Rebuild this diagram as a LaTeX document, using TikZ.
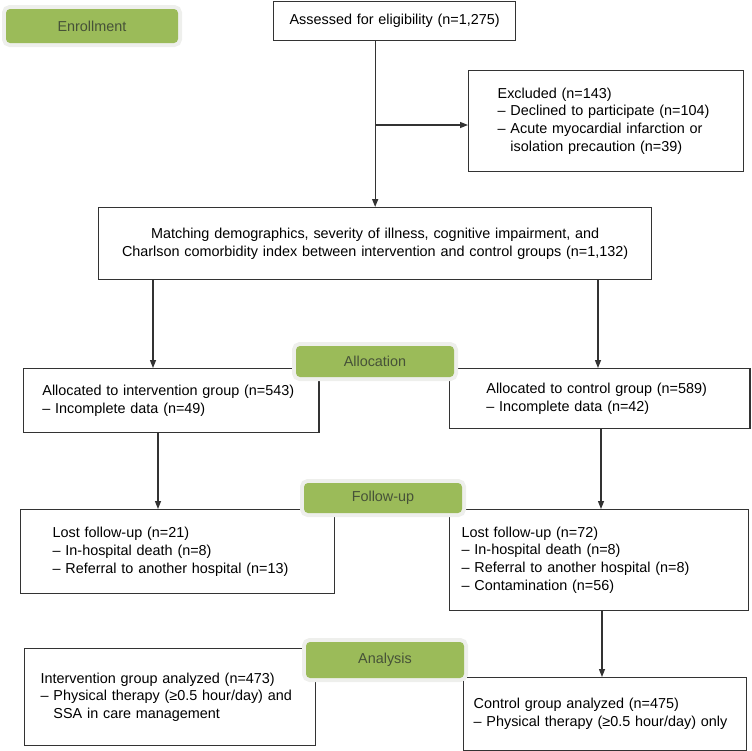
\documentclass[tikz,border=0pt]{standalone}
\usepackage{fontspec}
\setmainfont{Liberation Sans}
\usetikzlibrary{arrows.meta}
\definecolor{phasegreen}{HTML}{9BBB59}
\definecolor{phasering}{HTML}{EEEFEC}
\definecolor{phasetext}{HTML}{465238}
\definecolor{boxline}{HTML}{333333}

\begin{document}
\begin{tikzpicture}[x=0.75pt, y=-0.75pt,
	font=\fontsize{10.8pt}{13.4pt}\selectfont,
	box/.style={draw=boxline, line width=1pt, anchor=north west, align=left, inner ysep=0pt},
	phase/.style={fill=phasegreen, text=phasetext, rounded corners=3pt, minimum width=118.5pt,
		minimum height=24pt, inner sep=0pt, preaction={draw=phasering, line width=6pt}},
	arrow/.style={draw=boxline, line width=1pt, -{Triangle[length=6pt, width=4.5pt]}}]
	\useasboundingbox (0,0) rectangle (751,751);
	
	% boxes
	\node[box, align=center, inner xsep=0pt, text width=181.5pt, minimum height=29.25pt] (assessed) at (273,1)
		{Assessed for eligibility (n=1,275)};
	\node[box, inner xsep=21.75pt, text width=162.75pt, minimum height=75.75pt] (excluded) at (468,70)
		{Excluded (n=143)\\– Declined to participate (n=104)\\– Acute myocardial infarction or\\\hphantom{– }isolation precaution (n=39)};
	\node[box, align=center, inner xsep=0pt, text width=414.75pt, minimum height=54pt] (matching) at (98,207)
		{Matching demographics, severity of illness, cognitive impairment, and\\Charlson comorbidity index between intervention and control groups (n=1,132)};
	\node[box, inner xsep=14.06pt, text width=193.5pt, minimum height=48pt] (leftalloc) at (23,368)
		{Allocated to intervention group (n=543)\\– Incomplete data (n=49)};
	\node[box, inner xsep=27.56pt, text width=170.25pt, minimum height=45pt] (rightalloc) at (449,368)
		{Allocated to control group (n=589)\\– Incomplete data (n=42)};
	\node[box, inner xsep=24pt, text width=187.5pt, minimum height=63pt] (leftfollow) at (20,509)
		{Lost follow-up (n=21)\\– In-hospital death (n=8)\\– Referral to another hospital (n=13)};
	\node[box, inner xsep=9pt, text width=206.25pt, minimum height=75.75pt] (rightfollow) at (449,509)
		{Lost follow-up (n=72)\\– In-hospital death (n=8)\\– Referral to another hospital (n=8)\\– Contamination (n=56)};
	\node[box, inner xsep=12pt, text width=194.25pt, minimum height=72.75pt] (leftanalysis) at (24,648)
		{Intervention group analyzed (n=473)\\– Physical therapy (≥0.5 hour/day) and\\\hphantom{– }SSA in care management};
	\node[box, inner xsep=7.5pt, text width=197.25pt, minimum height=54.75pt] (rightanalysis) at (463,677)
		{Control group analyzed (n=475)\\– Physical therapy (≥0.5 hour/day) only};
	
	% arrows
	\draw[arrow] (assessed.south -| matching.north) -- (matching.north);
	\draw[arrow] (matching.north |- 0,125) -- (excluded.west |- 0,125);
	\draw[arrow] (153,0 |- matching.south) -- (153,0 |- leftalloc.north);
	\draw[arrow] (598,0 |- matching.south) -- (598,0 |- rightalloc.north);
	\draw[arrow] (158,0 |- leftalloc.south) -- (158,0 |- leftfollow.north);
	\draw[arrow] (601,0 |- rightalloc.south) -- (601,0 |- rightfollow.north);
	\draw[arrow] (602,0 |- rightfollow.south) -- (602,0 |- rightanalysis.north);
	
	% phase labels
	\node[phase, minimum width=129pt, minimum height=25.5pt] (enrollment) at (92,26) {Enrollment};
	\node[phase, minimum height=23.25pt] (allocation) at (375,361.5) {Allocation};
	\node[phase, minimum height=22.5pt] (followup) at (383,498) {Follow-up};
	\node[phase, minimum height=27pt] (analysis) at (385,660) {Analysis};
\end{tikzpicture}
\end{document}
